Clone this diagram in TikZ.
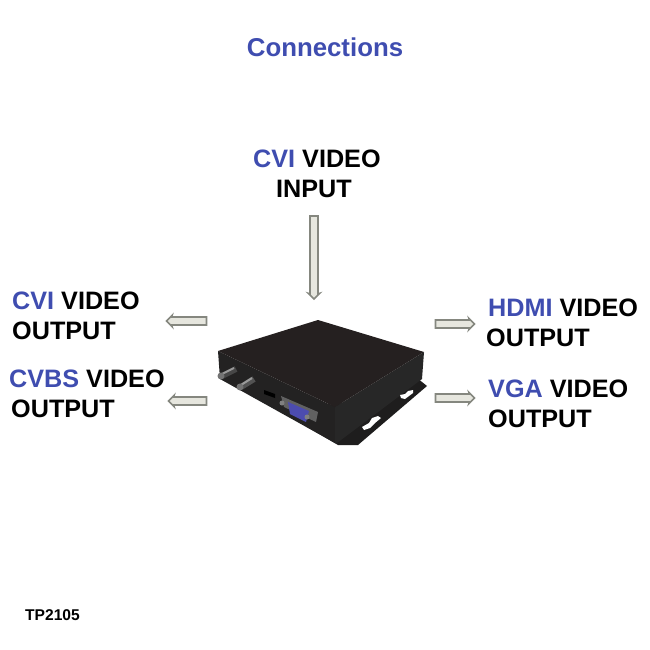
\documentclass[tikz,border=0pt]{standalone}
\usepackage{fontspec}
\setmainfont{Liberation Sans}
\usetikzlibrary{shapes.arrows}
\definecolor{cblue}{HTML}{3F4DB0}
\definecolor{afill}{HTML}{E6E6DE}
\definecolor{aline}{HTML}{85877F}
\definecolor{topf}{HTML}{252020}
\definecolor{frontf}{HTML}{232222}
\definecolor{rightf}{HTML}{272727}
\definecolor{flange}{HTML}{1E1D1D}
\newcommand{\bl}[1]{\textcolor{cblue}{#1}}
\tikzset{
  x=1pt,y=-1pt,
  lbl/.style={font=\fontsize{25.2}{30}\selectfont\bfseries,text=black,inner sep=0pt,anchor=base west},
  blockarrow/.style={single arrow,draw=aline,fill=afill,line width=1.6pt,inner sep=3.2pt,
    single arrow head extend=1.6pt,single arrow head indent=0.5pt},
}
\begin{document}
\begin{tikzpicture}
\useasboundingbox (0,0) rectangle (650,650);
\fill[white] (0,0) rectangle (650,650);
% texts
\node[lbl,text=cblue,anchor=center,font=\fontsize{25.8}{30}\selectfont\bfseries] (title) at (325,47) {Connections};
\node[lbl] (t1) at (253,167) {\bl{CVI} VIDEO};
\node[lbl] (t1b) at (276,197) {INPUT};
\node[lbl] (t2) at (12,309) {\bl{CVI} VIDEO};
\node[lbl] (t2b) at (12,339) {OUTPUT};
\node[lbl] (t3) at (9,387) {\bl{CVBS} VIDEO};
\node[lbl] (t3b) at (11,417) {OUTPUT};
\node[lbl] (t4) at (488,316) {\bl{HDMI} VIDEO};
\node[lbl] (t4b) at (486,346) {OUTPUT};
\node[lbl] (t5) at (488,397) {\bl{VGA} VIDEO};
\node[lbl] (t5b) at (488,427) {OUTPUT};
\node[font=\fontsize{15.6}{18}\selectfont\bfseries,inner sep=0pt,anchor=base west] (tp) at (25,620) {TP2105};
% arrows
\node[blockarrow,minimum height=83pt,rotate=-90] (a1) at (314,255.5) {};
\node[blockarrow,minimum height=40pt,rotate=180] (a2) at (188.5,321) {};
\node[blockarrow,minimum height=38pt,rotate=180] (a3) at (189.5,401) {};
\node[blockarrow,minimum height=39pt] (a4) at (453,324) {};
\node[blockarrow,minimum height=39pt] (a5) at (453,398) {};
% device: flange
\fill[flange] (247,392) -- (338,445) -- (358,445) -- (427,386) -- (417,378) -- (335,405) -- cycle;
% device body
\fill[frontf] (218,351) -- (335,407) -- (335,443) -- (220,379) -- cycle;
\fill[rightf] (335,407) -- (424,352) -- (422,379) -- (337,443) -- (335,443) -- cycle;
\fill[topf] (218,351) -- (318,320) -- (424,352) -- (335,407) -- cycle;
% flange holes
\fill[white] (362,427) -- (369,423) -- (372,418) -- (378,416) -- (381,418) -- (375,423) -- (370,428) -- (364,430) -- cycle;
\fill[white] (400,395) -- (405,394) -- (408,391) -- (413,390) -- (413,393) -- (409,396) -- (405,399) -- (401,398) -- cycle;
% BNC connectors
\draw[line width=6pt,color=black!72] (222,376) -- (236,369);
\draw[line width=6pt,color=black!68] (241,387) -- (254,379);
\draw[line width=2pt,color=black!40] (222,374) -- (234,368);
\draw[line width=2pt,color=black!40] (241,385) -- (252,378);
\fill[black!55] (221,376) circle (3.5);
\fill[black!55] (240,387) circle (3.5);
% HDMI
\fill[black] (264,390) -- (275,394) -- (275,398) -- (264,394) -- cycle;
% VGA
\fill[black!62] (281,396) -- (318,412) -- (316,422) -- (284,407) -- cycle;
\fill[blue!55!black!70!white] (288,402) -- (309,411) -- (306,422) -- (290,414) -- cycle;
\fill[black!50] (282,403) circle (2.5);
\fill[black!50] (307,417) circle (2.5);
\end{tikzpicture}
\end{document}
